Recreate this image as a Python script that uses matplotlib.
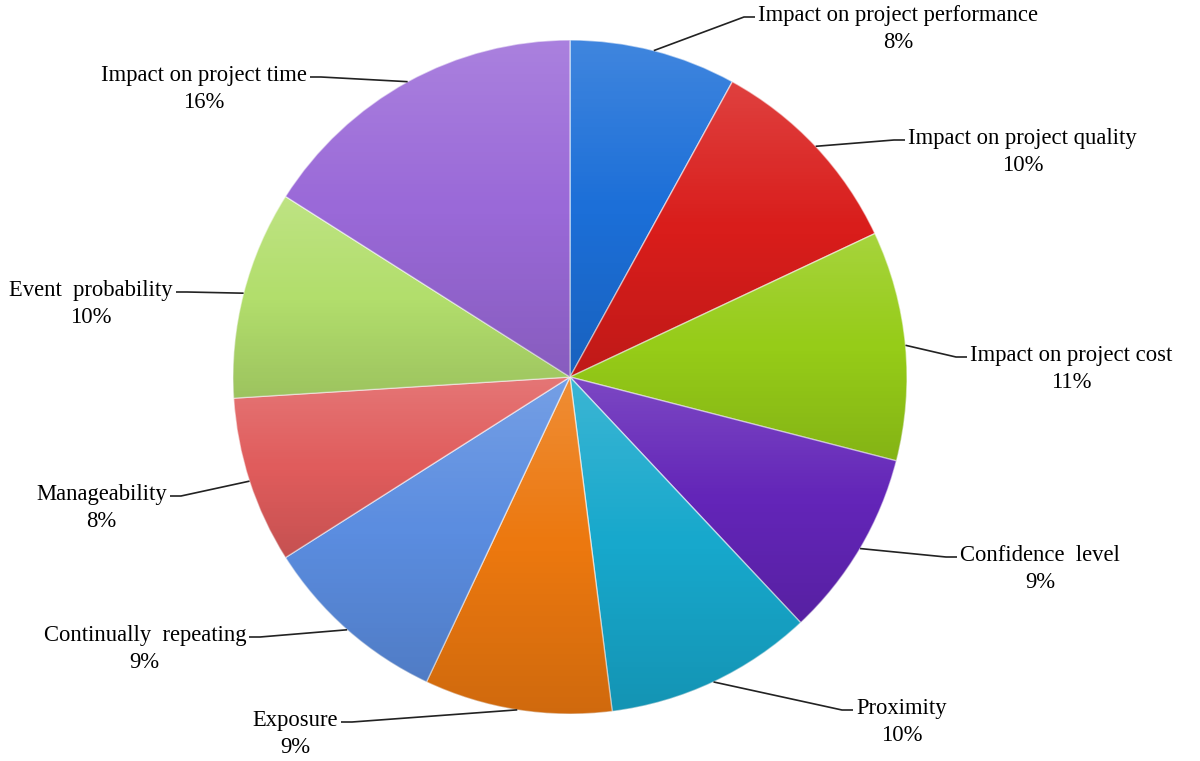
import numpy as np
import matplotlib
matplotlib.use("Agg")
import matplotlib.pyplot as plt

# ---- data ----
categories = ["Impact on project performance", "Impact on project quality",
              "Impact on project cost", "Confidence  level", "Proximity",
              "Exposure", "Continually  repeating", "Manageability",
              "Event  probability", "Impact on project time"]
shares = [8, 10, 11, 9, 10, 9, 9, 8, 10, 16]
colors = ["#1c6fd8", "#d91d1b", "#96cc18", "#6325b8", "#17a8cc",
          "#ec780f", "#5b8de0", "#e05c5c", "#b2de6c", "#9a69d8"]

# ---- layout (pixel coords, y downward) ----
W, H = 1200, 761
cx, cy, R = 570, 377, 337
# label anchor: (x edge, y of first line centre, side)
label_pos = [(758, 15, "L"), (908, 138, "L"), (970, 355, "L"), (960, 555, "L"),
             (856, 708, "L"), (338, 720, "R"), (246, 635, "R"), (170, 291, "R"),
             (173, 290, "R"), (307, 75, "R")]
label_pos[7] = (167, 494, "R")

fig = plt.figure(figsize=(W / 100, H / 100), dpi=100)
ax = fig.add_axes([0, 0, 1, 1])


def Y(y):
    return H - y


wedges, _ = ax.pie(shares, colors=colors, startangle=90, counterclock=False,
                   center=(cx, Y(cy)), radius=R, frame=True,
                   wedgeprops=dict(edgecolor=(1, 1, 1, 0.55), linewidth=1.0))
ax.set_xlim(0, W)
ax.set_ylim(0, H)
ax.set_aspect("equal")
ax.axis("off")

# subtle per-slice shading (lighter at top, darker at bottom)
fig.canvas.draw()
grad = np.zeros((64, 2, 4))
t = np.linspace(0, 1, 64)[:, None]
grad[..., 0:3] = np.where(t < 0.5, 1.0, 0.0)[..., None]
grad[..., 3] = np.where(t[:, 0:1] < 0.5, 0.16 * (1 - 2 * t), 0.12 * (2 * t - 1))
for w in wedges:
    bb = w.get_path().get_extents(w.get_patch_transform())
    im = ax.imshow(grad, extent=(bb.x0, bb.x1, bb.y0, bb.y1), origin="upper",
                   aspect="auto", interpolation="bilinear", zorder=w.get_zorder() + 0.1)
    im.set_clip_path(w)
ax.set_xlim(0, W)
ax.set_ylim(0, H)

font = dict(family=["Liberation Serif", "DejaVu Serif"], fontsize=16.3, color="black")

total = float(sum(shares))
cum = 0.0
for name, val, (lx, ly, side) in zip(categories, shares, label_pos):
    mid = (cum + val / 2) / total * 360.0
    cum += val
    ang = np.deg2rad(mid)
    px = cx + R * np.sin(ang)
    py = cy - R * np.cos(ang)
    pct = f"{val / total * 100:.0f}%"
    ha = "left" if side == "L" else "right"
    ax.text(lx, Y(ly + 14), f"{name}\n{pct}", ha=ha, va="center",
            multialignment="center", linespacing=1.36, **font)
    ey = ly + 2
    if side == "L":
        ex1, ex2 = lx - 14, lx - 3
    else:
        ex1, ex2 = lx + 14, lx + 3
    ax.plot([px, ex1, ex2], [Y(py), Y(ey), Y(ey)], color="#222222", lw=1.2,
            solid_capstyle="butt", zorder=5)

fig.savefig("out.png", dpi=100)
